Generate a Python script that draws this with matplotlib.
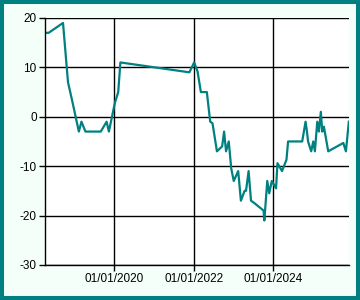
import numpy as np
import pandas as pd
import matplotlib
matplotlib.use("Agg")
import matplotlib.pyplot as plt
import matplotlib.dates as mdates
from matplotlib.patches import Rectangle

plt.rcParams["axes.unicode_minus"] = False

# data
dates = ["2018-04-01", "2018-05-05", "2018-09-14", "2018-10-30", "2018-12-10",
         "2019-02-07", "2019-03-03", "2019-04-09", "2019-08-28", "2019-10-21",
         "2019-11-11", "2020-01-05", "2020-02-05", "2020-02-25", "2021-11-22",
         "2022-01-05", "2022-02-05", "2022-03-08", "2022-05-02", "2022-06-02",
         "2022-06-23", "2022-08-03", "2022-09-20", "2022-10-08", "2022-10-26",
         "2022-11-20", "2022-12-13", "2023-01-05", "2023-02-15", "2023-03-12",
         "2023-04-15", "2023-04-28", "2023-05-22", "2023-06-13", "2023-07-15",
         "2023-10-07", "2023-10-14", "2023-11-10", "2023-11-28", "2023-12-22",
         "2024-01-30", "2024-02-12", "2024-03-25", "2024-05-05", "2024-05-20",
         "2024-06-11", "2024-09-27", "2024-10-28", "2024-11-10", "2024-11-20",
         "2024-12-19", "2025-01-07", "2025-01-22", "2025-02-13", "2025-02-28",
         "2025-03-18", "2025-03-31", "2025-04-15", "2025-05-25", "2025-10-11",
         "2025-11-04", "2025-12-01"]
values = [17, 17, 19, 7, 3,
          -3, -1, -3, -3, -1,
          -3, 2.8, 5, 11, 9,
          11, 9.2, 5, 5, -1,
          -1.3, -7, -6, -3, -7,
          -5, -10.5, -13, -11, -17,
          -15, -15, -11, -17, -17.5,
          -19, -21, -13, -15.5, -13,
          -14.5, -9.4, -11, -8.7, -5,
          -5, -5, -1, -3, -5,
          -7, -5, -7, -1, -3,
          1, -3, -2, -7, -5.3,
          -7, -1]

x = pd.to_datetime(dates)
yticks = [-30, -20, -10, 0, 10, 20]
xticks = pd.to_datetime(["2020-01-01", "2022-01-01", "2024-01-01"])

fig = plt.figure(figsize=(3.6, 3.0), dpi=100, facecolor="#f5fffa")
ax = fig.add_axes([0.125, 0.117, 0.844, 0.823])
ax.set_facecolor("white")
ax.plot(x, values, color="#008080", lw=1.6)

ax.set_xlim(x[0], x[-1])
ax.set_ylim(-30, 20)
ax.set_yticks(yticks)
ax.set_xticks(xticks)
ax.xaxis.set_major_formatter(mdates.DateFormatter("%d/%m/%Y"))
ax.grid(True, color="black", lw=1)
ax.set_axisbelow(True)
for s in ["top", "right"]:
    ax.spines[s].set_visible(False)
for s in ["left", "bottom"]:
    ax.spines[s].set_linewidth(1)
ax.tick_params(labelsize=8.5, length=4, width=1, pad=2, colors="black")
for t in ax.get_xticklabels() + ax.get_yticklabels():
    t.set_family("Liberation Sans")

# teal frame round the picture
fig.patches.append(Rectangle((0, 0), 1, 1, transform=fig.transFigure, fill=False,
                             edgecolor="#008080", lw=5.8, clip_on=False))

fig.savefig("out.png", dpi=100, facecolor=fig.get_facecolor())
